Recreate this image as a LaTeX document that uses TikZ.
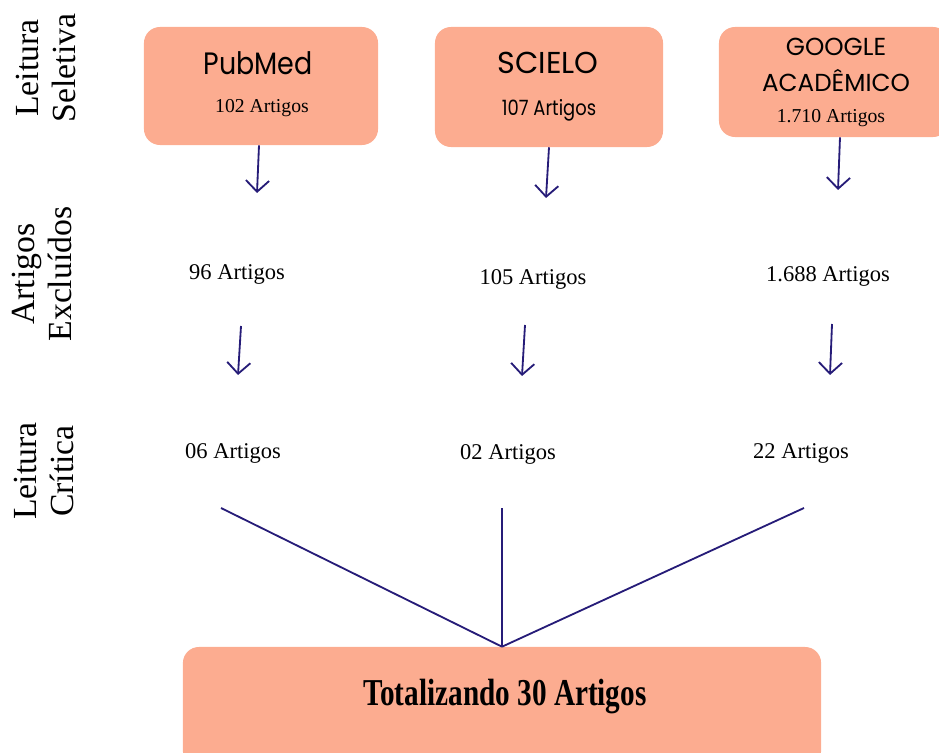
\documentclass[tikz,border=0pt]{standalone}
\usepackage{fontspec}
\usepackage{graphicx}
\setmainfont{Liberation Serif}
\newfontfamily\dbfont{Poppins}
\usetikzlibrary{arrows.meta}
\definecolor{salmon}{RGB}{252,172,144}
\definecolor{navy}{RGB}{38,28,120}

\begin{document}
\begin{tikzpicture}[x=0.025cm, y=-0.025cm,
    dbbox/.style={fill=salmon, rounded corners=0.4cm, inner sep=0pt},
    dbname/.style={font=\dbfont\fontsize{22}{26}\selectfont, align=center},
    count/.style={font=\fontsize{14}{16}\selectfont},
    stage/.style={font=\fontsize{16}{18}\selectfont},
    side/.style={rotate=90, align=center, font=\fontsize{24}{26}\selectfont},
    arr/.style={draw=navy, line width=1.3pt, -{Straight Barb[length=2.8mm, width=5.8mm]}},
    mergeline/.style={draw=navy, line width=1.3pt}]
    \useasboundingbox (0,0) rectangle (939,753);
    % row labels
    \node [side] (lsel) at (46,68) {Leitura\\Seletiva};
    \node [side] (lexc) at (42,274) {Artigos\\Exclu\'idos};
    \node [side] (lcri) at (44,471) {Leitura\\Cr\'itica};
    % databases
    \node [dbbox, minimum width=5.85cm, minimum height=2.95cm] (pubmed) at (261,86) {};
    \node [dbbox, minimum width=5.7cm, minimum height=3cm] (scielo) at (549,87) {};
    \node [dbbox, minimum width=5.75cm, minimum height=2.75cm] (google) at (834,82) {};
    \node [dbname] (pubmedT) at (258,63) {\scalebox{0.87}[1]{PubMed}};
    \node [count] (pubmedN) at (262,108) {102 Artigos};
    \node [dbname, font=\dbfont\fontsize{21.5}{26}\selectfont] (scieloT) at (548,63) {SCIELO};
    \node [dbname, font=\dbfont\fontsize{15}{17}\selectfont] (scieloN) at (549,110) {\scalebox{0.85}[1]{107 Artigos}};
    \node [dbname, font=\dbfont\fontsize{17.5}{25.5}\selectfont] (googleT) at (836,65) {GOOGLE\\ACAD\^EMICO};
    \node [count] (googleN) at (831,118) {1.710 Artigos};
    % excluded
    \node [stage] (exc1) at (237,274) {96 Artigos};
    \node [stage] (exc2) at (533,279) {105 Artigos};
    \node [stage] (exc3) at (828,276) {1.688 Artigos};
    % critical reading
    \node [stage] (cri1) at (233,453) {06 Artigos};
    \node [stage] (cri2) at (508,454) {02 Artigos};
    \node [stage] (cri3) at (801,453) {22 Artigos};
    % total
    \node [dbbox, minimum width=15.95cm, minimum height=3cm] (total) at (502,707) {};
    \node (totalT) at (505,697) {\bfseries\fontsize{27}{30}\selectfont\scalebox{0.77}[1]{Totalizando 30 Artigos}};
    % arrows
    \coordinate (a1) at (257,193);
    \coordinate (a2) at (546,198);
    \coordinate (a3) at (838,190);
    \coordinate (b1s) at (241,326);
    \coordinate (b1) at (238,375);
    \coordinate (b2s) at (525,325);
    \coordinate (b2) at (522,376);
    \coordinate (b3s) at (832,324);
    \coordinate (b3) at (830,375);
    \draw [arr] (pubmed.south) ++(-2,0) -- (a1);
    \draw [arr] (scielo.south) ++(0,0) -- (a2);
    \draw [arr] (google.south) ++(6,0) -- (a3);
    \draw [arr] (b1s) -- (b1);
    \draw [arr] (b2s) -- (b2);
    \draw [arr] (b3s) -- (b3);
    % merge lines
    \coordinate (c1) at (221,508);
    \coordinate (c2) at (502,508);
    \coordinate (c3) at (804,508);
    \draw [mergeline] (c1) -- (total.north);
    \draw [mergeline] (c2) -- (total.north);
    \draw [mergeline] (c3) -- (total.north);
\end{tikzpicture}
\end{document}
